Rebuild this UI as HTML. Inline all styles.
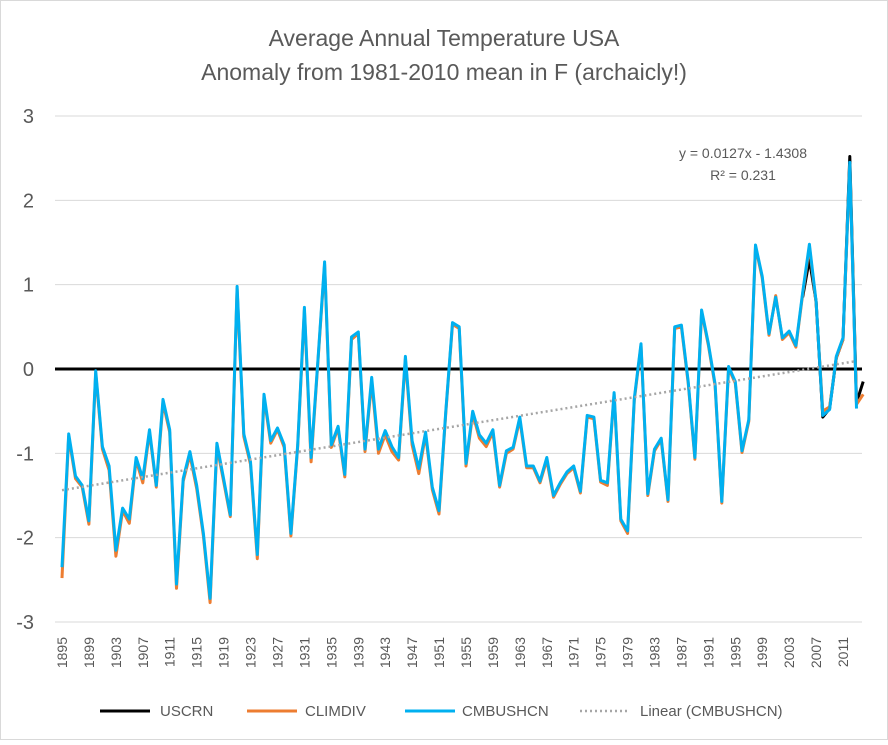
<!DOCTYPE html>
<html><head><meta charset="utf-8"><style>
body{margin:0;background:#fff;font-family:"Liberation Sans",sans-serif}
svg text{font-family:"Liberation Sans",sans-serif;fill:#595959}
</style></head><body>
<svg id="c" width="888" height="740">
<rect x="0.5" y="0.5" width="887" height="739" fill="#fff" stroke="#d9d9d9"/>
<text x="444" y="46" text-anchor="middle" font-size="23">Average Annual Temperature USA</text>
<text x="444" y="80" text-anchor="middle" font-size="23">Anomaly from 1981-2010 mean in F (archaicly!)</text>
<g id="grid"></g><g id="yl"></g><g id="xl"></g><g id="series"></g>
<text x="743" y="158" text-anchor="middle" font-size="14">y = 0.0127x - 1.4308</text>
<text x="743" y="180" text-anchor="middle" font-size="14">R² = 0.231</text>
<g>
<line x1="100" y1="711" x2="150" y2="711" stroke="#000" stroke-width="3"/>
<text x="160" y="716" font-size="15">USCRN</text>
<line x1="247" y1="711" x2="297" y2="711" stroke="#ed7d31" stroke-width="3"/>
<text x="305" y="716" font-size="15">CLIMDIV</text>
<line x1="405" y1="711" x2="455" y2="711" stroke="#00b0f0" stroke-width="3"/>
<text x="462" y="716" font-size="15">CMBUSHCN</text>
<line x1="580" y1="711" x2="630" y2="711" stroke="#a6a6a6" stroke-width="2.5" stroke-dasharray="2,3"/>
<text x="640" y="716" font-size="15">Linear (CMBUSHCN)</text>
</g>
</svg>
<script>
const startYear=1895;
const cmbushcn=[-2.35,-0.77,-1.27,-1.38,-1.8,-0.02,-0.92,-1.15,-2.15,-1.65,-1.78,-1.05,-1.3,-0.72,-1.38,-0.36,-0.72,-2.55,-1.3,-0.98,-1.38,-1.95,-2.72,-0.88,-1.3,-1.73,0.98,-0.77,-1.1,-2.2,-0.3,-0.85,-0.7,-0.9,-1.95,-0.9,0.73,-1.05,0.1,1.27,-0.9,-0.68,-1.25,0.38,0.44,-0.95,-0.1,-0.95,-0.73,-0.92,-1.05,0.15,-0.85,-1.18,-0.75,-1.4,-1.68,-0.5,0.55,0.5,-1.12,-0.5,-0.78,-0.88,-0.72,-1.38,-0.97,-0.93,-0.57,-1.15,-1.15,-1.33,-1.05,-1.5,-1.35,-1.22,-1.15,-1.45,-0.55,-0.57,-1.32,-1.35,-0.28,-1.78,-1.92,-0.35,0.3,-1.48,-0.95,-0.82,-1.55,0.5,0.52,-0.15,-1.05,0.7,0.3,-0.18,-1.57,0.03,-0.15,-0.97,-0.6,1.47,1.1,0.42,0.85,0.37,0.45,0.28,0.9,1.48,0.8,-0.55,-0.48,0.15,0.37,2.45,-0.47];
const climdiv=[-2.48,-0.8,-1.3,-1.4,-1.84,-0.05,-0.95,-1.2,-2.22,-1.68,-1.83,-1.08,-1.35,-0.75,-1.4,-0.4,-0.75,-2.6,-1.33,-1.02,-1.42,-1.98,-2.77,-0.92,-1.33,-1.75,0.95,-0.8,-1.13,-2.25,-0.33,-0.88,-0.72,-0.93,-1.98,-0.92,0.7,-1.1,0.08,1.24,-0.93,-0.7,-1.28,0.35,0.42,-0.98,-0.15,-1.0,-0.78,-0.98,-1.08,0.12,-0.9,-1.24,-0.78,-1.43,-1.72,-0.52,0.53,0.48,-1.15,-0.53,-0.82,-0.92,-0.75,-1.4,-1.0,-0.95,-0.6,-1.17,-1.17,-1.35,-1.08,-1.52,-1.37,-1.24,-1.17,-1.47,-0.57,-0.59,-1.34,-1.38,-0.3,-1.8,-1.95,-0.37,0.28,-1.5,-0.97,-0.84,-1.57,0.48,0.5,-0.17,-1.07,0.68,0.28,-0.2,-1.59,0.01,-0.17,-0.99,-0.62,1.45,1.08,0.4,0.87,0.35,0.43,0.26,0.88,1.45,0.78,-0.5,-0.45,0.13,0.35,2.42,-0.42,-0.3];
const uscrnStart=2005;
const uscrn=[0.85,1.3,0.8,-0.57,-0.47,0.13,0.35,2.52,-0.4,-0.15];
const yTicks=[3,2,1,0,-1,-2,-3];
const xTickYears=[];for(let y=1895;y<=2011;y+=4)xTickYears.push(y);

const NS="http://www.w3.org/2000/svg";
const X=yr=>62+(yr-1895)*6.733, Y=v=>369-v*84.33;
function mk(tag,parent,attrs){const e=document.createElementNS(NS,tag);for(const k in attrs)e.setAttribute(k,attrs[k]);parent.appendChild(e);return e;}
const grid=document.getElementById('grid'),yl=document.getElementById('yl'),xl=document.getElementById('xl'),ser=document.getElementById('series');
yTicks.forEach(t=>{
 if(t!==0){const l=mk('line',grid,{x1:55,x2:862,y1:Y(t),y2:Y(t),stroke:'#d9d9d9','stroke-width':1});
 
 }
 const tx=mk('text',yl,{x:34,y:Y(t)+7,'text-anchor':'end','font-size':20});tx.textContent=t;
 
 
});
xTickYears.forEach(yr=>{
 const tx=mk('text',xl,{transform:`translate(${X(yr)+5},637) rotate(-90)`,'text-anchor':'end','font-size':14});tx.textContent=yr;
 
 
});
function line(arr,start,color,name){
 const p=arr.map((v,i)=>X(start+i).toFixed(1)+','+Y(v).toFixed(1)).join(' ');
 const pl=mk('polyline',ser,{points:p,fill:'none',stroke:color,'stroke-width':3,'stroke-linejoin':'round'});
 
 
}
line(uscrn,uscrnStart,'#000','uscrn-line');
line(climdiv,startYear,'#ed7d31','climdiv-line');
line(cmbushcn,startYear,'#00b0f0','cmbushcn-line');
// regression
const n=cmbushcn.length;let sx=0,sy=0,sxx=0,sxy=0;
cmbushcn.forEach((v,i)=>{const x=i+1;sx+=x;sy+=v;sxx+=x*x;sxy+=x*v;});
const m=(n*sxy-sx*sy)/(n*sxx-sx*sx),b=(sy-m*sx)/n;
const tl=mk('line',ser,{x1:X(startYear),y1:Y(m+b),x2:X(startYear+n-1),y2:Y(m*n+b),stroke:'#a6a6a6','stroke-width':2.5,'stroke-dasharray':'2,3'});


const z=mk('line',grid,{x1:55,x2:862,y1:Y(0),y2:Y(0),stroke:'#000','stroke-width':3});


</script>
</body></html>
